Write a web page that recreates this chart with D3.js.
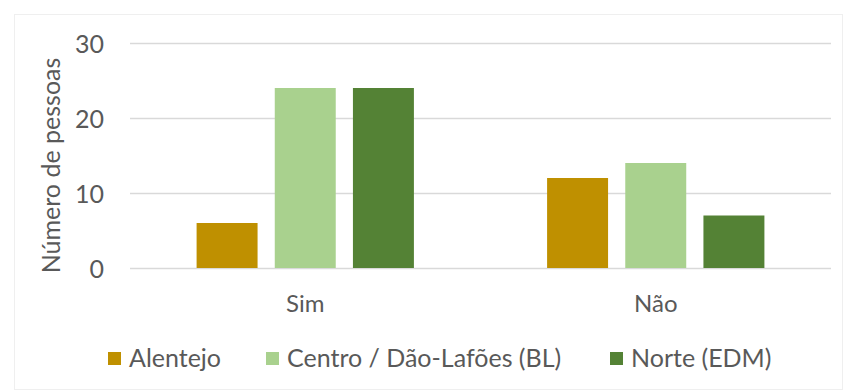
<!DOCTYPE html>
<html>
<head>
<meta charset="utf-8">
<script src="https://cdn.jsdelivr.net/npm/d3@7"></script>
<style>
  html, body { margin: 0; padding: 0; background: #fff; }
  svg { display: block; }
  text { font-family: Lato, "Open Sans", sans-serif; fill: #595959; }
</style>
</head>
<body>
<svg id="chart" width="848" height="391"></svg>
<script>
const categories = ["Sim", "Não"];
const seriesNames = ["Alentejo", "Centro / Dão-Lafões (BL)", "Norte (EDM)"];
const alentejo = [6, 12];
const centro = [24, 14];
const norte = [24, 7];
const yTicks = [0, 10, 20, 30];
const seriesColors = ["#BF9000", "#A9D18E", "#548235"];

const seriesValues = [alentejo, centro, norte];
const data = categories.map((c, i) => ({
  cat: c,
  vals: seriesNames.map((s, j) => ({ series: s, value: seriesValues[j][i], color: seriesColors[j] }))
}));

const W = 848, H = 391;
const plot = { left: 130, right: 831, top: 43, bottom: 268 };
const svg = d3.select("#chart");
const FS = 25;

// chart frame
svg.append("rect").attr("x", 14.5).attr("y", 14.5).attr("width", W - 20).attr("height", H - 16)
  .attr("fill", "none").attr("stroke", "#efefef").attr("stroke-width", 1);

const y = d3.scaleLinear().domain([0, 30]).range([plot.bottom, plot.top]);
const x0 = d3.scaleBand().domain(categories).range([plot.left, plot.right])
  .paddingInner(0.38).paddingOuter(0.19);
const x1 = d3.scaleBand().domain(seriesNames).range([0, x0.bandwidth()])
  .paddingInner(0.22).paddingOuter(0);

// gridlines
svg.append("g").selectAll("line").data(yTicks).join("line")
  .attr("x1", plot.left).attr("x2", plot.right)
  .attr("y1", d => Math.round(y(d)) + 0.5).attr("y2", d => Math.round(y(d)) + 0.5)
  .attr("stroke", "#d9d9d9").attr("stroke-width", 1.5);

// y axis labels
const yAxis = d3.axisLeft(y).tickValues(yTicks).tickSize(0).tickPadding(0);
const gy = svg.append("g").attr("transform", `translate(104,0)`).call(yAxis);
gy.select(".domain").remove();
gy.selectAll("text").attr("font-size", FS).attr("fill", "#595959")
  .style("font-family", "Lato, sans-serif").attr("dy", "0.36em");

// bars
const groups = svg.append("g").selectAll("g").data(data).join("g")
  .attr("transform", d => `translate(${x0(d.cat)},0)`);
groups.selectAll("rect").data(d => d.vals).join("rect")
  .attr("x", d => x1(d.series))
  .attr("width", x1.bandwidth())
  .attr("y", d => y(d.value))
  .attr("height", d => y(0) - y(d.value))
  .attr("fill", d => d.color);

// x axis labels
const xAxis = d3.axisBottom(x0).tickSize(0).tickPadding(0);
const gx = svg.append("g").attr("transform", `translate(0,${plot.bottom + 27})`).call(xAxis);
gx.select(".domain").remove();
gx.selectAll("text").attr("font-size", 24).attr("fill", "#595959")
  .style("font-family", "Lato, sans-serif").attr("dy", "0.71em");

// y axis title
svg.append("text")
  .attr("transform", `translate(60,${(plot.top + plot.bottom) / 2 + 10}) rotate(-90)`)
  .attr("text-anchor", "middle").attr("font-size", FS)
  .text("Número de pessoas");

// legend
const legendX = [108, 266, 610];
const lg = svg.append("g").selectAll("g").data(seriesNames).join("g")
  .attr("transform", (d, i) => `translate(${legendX[i]},358)`);
lg.append("rect").attr("x", 0).attr("y", -6).attr("width", 13).attr("height", 13)
  .attr("fill", (d, i) => seriesColors[i]);
lg.append("text").attr("x", 21).attr("y", 0).attr("dy", "0.35em")
  .attr("font-size", FS).text(d => d);
</script>
</body>
</html>
